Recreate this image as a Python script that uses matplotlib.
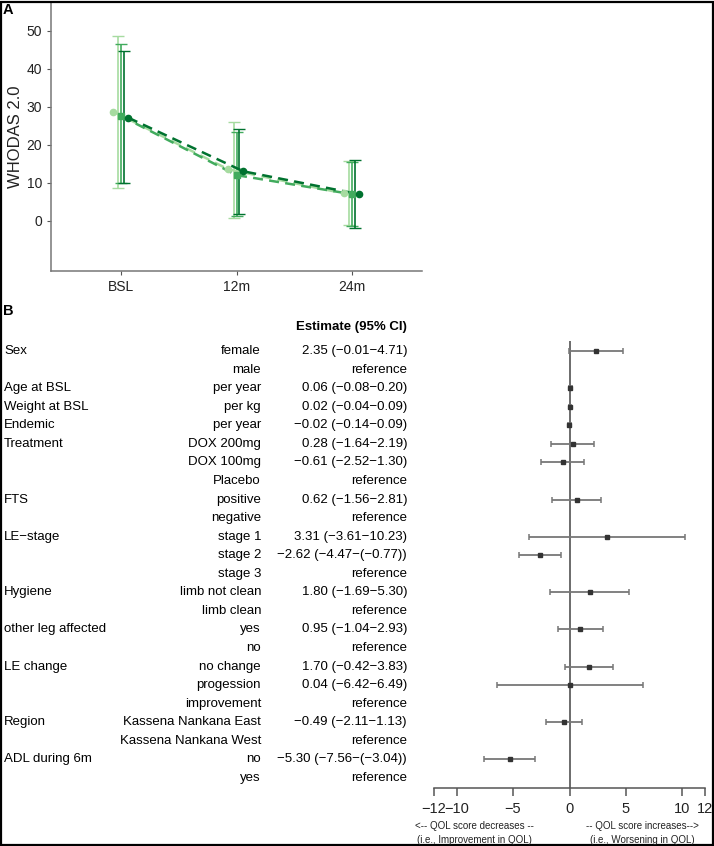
import numpy as np
import matplotlib
matplotlib.use("Agg")
import matplotlib.pyplot as plt
from matplotlib.patches import Rectangle
from matplotlib.transforms import blended_transform_factory

plt.rcParams['font.family'] = ['Liberation Sans', 'DejaVu Sans']

# -----------------------
# Panel A data (WHODAS 2.0 over time, three groups)
# -----------------------
timepoints = ['BSL', '12m', '24m']
light_mean = [28.7, 13.5, 7.2]
light_lo = [8.7, 0.7, -1.0]
light_hi = [48.5, 26.0, 15.7]
mid_mean = [27.5, 12.0, 7.0]
mid_lo = [9.8, 1.3, -1.4]
mid_hi = [46.5, 23.3, 15.4]
dark_mean = [27.1, 13.0, 7.0]
dark_lo = [9.9, 1.9, -1.8]
dark_hi = [44.5, 24.0, 16.0]

# -----------------------
# Panel B data (forest plot)
# -----------------------
group_rows = [0, 2, 3, 4, 5, 8, 10, 13, 15, 17, 20, 22]
group_labels = ['Sex', 'Age at BSL', 'Weight at BSL', 'Endemic', 'Treatment', 'FTS',
                'LE\u2212stage', 'Hygiene', 'other leg affected', 'LE change', 'Region',
                'ADL during 6m']
levels = ['female', 'male', 'per year', 'per kg', 'per year', 'DOX 200mg', 'DOX 100mg',
          'Placebo', 'positive', 'negative', 'stage 1', 'stage 2', 'stage 3',
          'limb not clean', 'limb clean', 'yes', 'no', 'no change', 'progession',
          'improvement', 'Kassena Nankana East', 'Kassena Nankana West', 'no', 'yes']
est = [2.35, None, 0.06, 0.02, -0.02, 0.28, -0.61, None, 0.62, None, 3.31, -2.62, None,
       1.80, None, 0.95, None, 1.70, 0.04, None, -0.49, None, -5.30, None]
ci_lo = [-0.01, None, -0.08, -0.04, -0.14, -1.64, -2.52, None, -1.56, None, -3.61, -4.47, None,
         -1.69, None, -1.04, None, -0.42, -6.42, None, -2.11, None, -7.56, None]
ci_hi = [4.71, None, 0.20, 0.09, 0.09, 2.19, 1.30, None, 2.81, None, 10.23, -0.77, None,
         5.30, None, 2.93, None, 3.83, 6.49, None, 1.13, None, -3.04, None]
forest_ticks = [-12, -10, -5, 0, 5, 10, 12]

W, H = 714, 846
fig = plt.figure(figsize=(W / 100, H / 100), dpi=100)


def fx(px):
    return px / W


def fy(py):
    return 1 - py / H


# -----------------------
# Panel A
# -----------------------
axA = fig.add_axes([fx(51), fy(271), fx(422 - 51), (271 - 2) / H])
x = np.arange(1, len(timepoints) + 1)
series = [
    (light_mean, light_lo, light_hi, '#a6dba0', 'o', -0.07, -0.025),
    (mid_mean, mid_lo, mid_hi, '#41ab5d', 's', 0.0, 0.0),
    (dark_mean, dark_lo, dark_hi, '#00722f', 'o', 0.06, 0.025),
]
for m, lo, hi, col, mk, dp, de in series:
    m = np.array(m); lo = np.array(lo); hi = np.array(hi)
    axA.errorbar(x + de, m, yerr=[m - lo, hi - m], fmt='none', ecolor=col,
                 elinewidth=1.2, capsize=4, capthick=1.0, zorder=2)
    axA.plot(x + dp, m, linestyle=(0, (4, 2.5)), color=col, lw=1.8, zorder=3)
    axA.plot(x + dp, m, linestyle='none', marker=mk, ms=4.5, color=col, zorder=4)

axA.set_xlim(0.39, 3.61)
axA.set_ylim(-13.2, 57.5)
axA.set_xticks(x)
axA.set_xticklabels(timepoints)
axA.set_yticks([0, 10, 20, 30, 40, 50])
for s in ['top', 'right']:
    axA.spines[s].set_visible(False)
for s in ['left', 'bottom']:
    axA.spines[s].set_color('#777777')
    axA.spines[s].set_linewidth(1.1)
axA.tick_params(axis='both', colors='#555555', labelcolor='#222222', labelsize=10,
                length=3, width=0.8)
fig.text(fx(16), fy(137), 'WHODAS 2.0', rotation=90, ha='center', va='center',
         fontsize=12, color='#222222')

# -----------------------
# Panel B
# -----------------------
n = len(levels)
axB = fig.add_axes([fx(434), fy(788), fx(705 - 434), (788 - 341) / H])
rows = np.arange(n)
for i in range(n):
    if est[i] is None:
        continue
    axB.errorbar(est[i], rows[i], xerr=[[est[i] - ci_lo[i]], [ci_hi[i] - est[i]]],
                 fmt='s', ms=3.5, color='#333333', ecolor='#777777', elinewidth=1.3,
                 capsize=2.5, capthick=1.1, zorder=3)
axB.axvline(0, color='#444444', lw=1.1, zorder=1)
axB.set_xlim(-12, 12)
axB.set_ylim(n - 0.46, -0.54)
axB.set_yticks([])
axB.set_xticks(forest_ticks)
axB.set_xticklabels([str(t).replace('-', '\u2212') for t in forest_ticks])
for s in ['top', 'right', 'left']:
    axB.spines[s].set_visible(False)
axB.spines['bottom'].set_color('#555555')
axB.spines['bottom'].set_linewidth(1.1)
axB.tick_params(axis='x', colors='#555555', labelcolor='#222222', labelsize=10.5,
                length=6, width=1.1, pad=4)

tr = blended_transform_factory(fig.transFigure, axB.transData)


def fmt(v):
    return f"{v:.2f}".replace('-', '\u2212')


for r, g in zip(group_rows, group_labels):
    axB.text(fx(4), r, g, transform=tr, ha='left', va='center', fontsize=9.5, clip_on=False)
for i in range(n):
    axB.text(fx(261), i, levels[i], transform=tr, ha='right', va='center', fontsize=9.5,
             clip_on=False)
    if est[i] is None:
        s = 'reference'
    else:
        hi = fmt(ci_hi[i]) if ci_hi[i] >= 0 else '(' + fmt(ci_hi[i]) + ')'
        s = f"{fmt(est[i])} ({fmt(ci_lo[i])}\u2212{hi})"
    axB.text(fx(407), i, s, transform=tr, ha='right', va='center', fontsize=9.5,
             clip_on=False)
axB.text(fx(407), -1.3, 'Estimate (95% CI)', transform=tr, ha='right', va='center',
         fontsize=9.5, fontweight='bold', clip_on=False)

fig.text(fx(474), fy(826), '<-- QOL score decreases --', ha='center',
         va='center', fontsize=7, color='#222222')
fig.text(fx(474), fy(840), '(i.e., Improvement in QOL)', ha='center', va='center',
         fontsize=7, color='#222222')
fig.text(fx(642), fy(826), '-- QOL score increases-->', ha='center',
         va='center', fontsize=7, color='#222222')
fig.text(fx(642), fy(840), '(i.e., Worsening in QOL)', ha='center', va='center',
         fontsize=7, color='#222222')

# panel letters and frame
fig.text(fx(3), fy(10), 'A', ha='left', va='center', fontsize=10.5, fontweight='bold')
fig.text(fx(3), fy(311), 'B', ha='left', va='center', fontsize=10.5, fontweight='bold')
fig.add_artist(Rectangle((0.001, 0.001), 0.997, 0.997, transform=fig.transFigure,
                         fill=False, edgecolor='black', lw=1.6))

fig.savefig('out.png', dpi=100)
